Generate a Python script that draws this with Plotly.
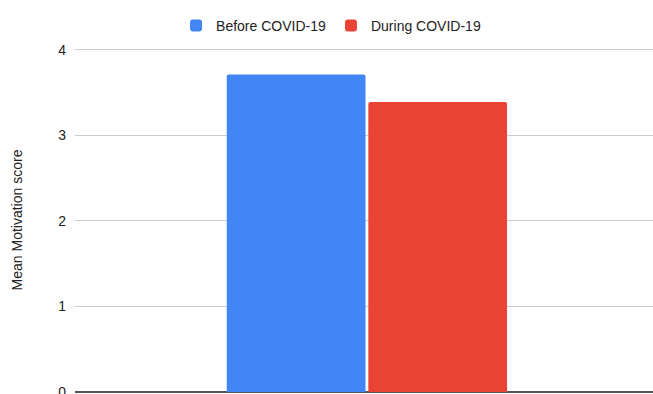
import plotly.graph_objects as go

# Mean motivation score, before and during the pandemic
categories = ["Motivation"]
series_names = ["Before COVID-19", "During COVID-19"]
before_values = [3.71]
during_values = [3.39]
y_ticks = [0, 1, 2, 3, 4]

colors = ["#4285F4", "#EA4335"]

fig = go.Figure()
fig.add_trace(go.Bar(x=categories, y=before_values, name=series_names[0],
                     marker=dict(color=colors[0], line=dict(width=0))))
fig.add_trace(go.Bar(x=categories, y=during_values, name=series_names[1],
                     marker=dict(color=colors[1], line=dict(width=0))))

font_family = "Liberation Sans, Arial, sans-serif"

fig.update_layout(
    width=653, height=394,
    margin=dict(l=75, r=0, t=48, b=2, pad=0, autoexpand=False),
    paper_bgcolor="white", plot_bgcolor="white",
    barmode="group", bargap=0.515, bargroupgap=0.02,
    barcornerradius=2,
    font=dict(family=font_family, size=14, color="#222222"),
    showlegend=True,
    legend=dict(orientation="h", x=0.443, xanchor="center", y=1.064, yanchor="middle",
                font=dict(size=14, color="#222222"), traceorder="normal",
                itemwidth=30, bgcolor="rgba(0,0,0,0)"),
    xaxis=dict(showticklabels=False, showgrid=False, zeroline=False, showline=False,
               ticks="", range=[-0.5, 0.49], automargin=False),
    yaxis=dict(range=[0, 4.02], tickvals=y_ticks, showgrid=True, gridcolor="#cccccc",
               gridwidth=1, zeroline=True, zerolinecolor="#555555", zerolinewidth=2,
               showline=False, ticks="", ticklabelstandoff=8,
               ticklabeloverflow="allow", automargin=False,
               tickfont=dict(size=14, color="#222222"),
               title=dict(text="Mean Motivation score", standoff=32,
                          font=dict(size=14, color="#222222"))),
)

fig.write_html("out.html")
